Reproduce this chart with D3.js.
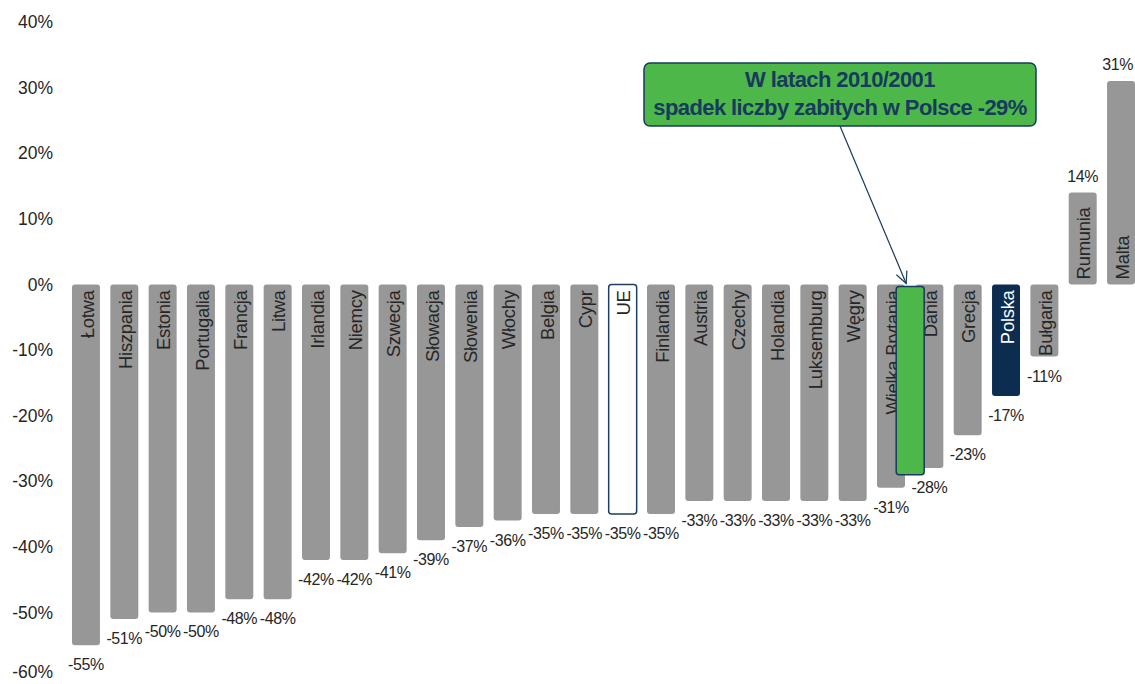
<!doctype html>
<html>
<head>
<meta charset="utf-8" />
<title>Zmiana liczby zabitych</title>
<script src="https://cdn.jsdelivr.net/npm/d3@7"></script>
<style>
    body { margin: 0; background: #fff; }
    svg { font-family: "Liberation Sans", Arial, sans-serif; }
</style>
</head>
<body>
<div id="chart"></div>
<script>
    // dane
    var countries = ['Łotwa', 'Hiszpania', 'Estonia', 'Portugalia', 'Francja', 'Litwa', 'Irlandia', 'Niemcy',
        'Szwecja', 'Słowacja', 'Słowenia', 'Włochy', 'Belgia', 'Cypr', 'UE', 'Finlandia', 'Austria', 'Czechy',
        'Holandia', 'Luksemburg', 'Węgry', 'Wielka Brytania', 'Dania', 'Grecja', 'Polska', 'Bułgaria', 'Rumunia', 'Malta'];
    var values = [-55, -51, -50, -50, -48, -48, -42, -42, -41, -39, -37, -36, -35, -35, -35, -35, -33, -33,
        -33, -33, -33, -31, -28, -23, -17, -11, 14, 31];
    var yTicks = [-60, -50, -40, -30, -20, -10, 0, 10, 20, 30, 40];
    var calloutLines = ['W latach 2010/2001', 'spadek liczby zabitych w Polsce -29%'];
    var polandChange = -29;

    var W = 1135, H = 684;
    var svg = d3.select('#chart').append('svg')
        .attr('width', W)
        .attr('height', H);

    var y = d3.scaleLinear().domain([-60, 40]).range([678, 22]);
    var x = d3.scaleBand().domain(countries).range([66.8, 1140.2])
        .paddingInner(0.27).paddingOuter(0.135);

    // oś Y
    var yAxis = svg.append('g')
        .attr('transform', 'translate(53,0)')
        .call(d3.axisLeft(y).tickValues(yTicks).tickSize(0).tickPadding(0)
            .tickFormat(function (d) { return d + '%'; }));
    yAxis.select('.domain').remove();
    yAxis.selectAll('text')
        .style('font-size', '17.5px')
        .style('font-family', '"Liberation Sans", Arial, sans-serif')
        .attr('fill', '#262626');
    // ostatnia etykieta przy dolnej krawędzi – do góry, żeby się zmieściła
    yAxis.selectAll('.tick').filter(function (d) { return d === -60; })
        .select('text').attr('y', -6);

    function fillFor(name) {
        if (name === 'Polska') return '#0c2d50';
        if (name === 'UE') return '#ffffff';
        return '#979797';
    }

    var bars = svg.append('g');
    bars.selectAll('rect')
        .data(countries)
        .enter().append('rect')
        .attr('x', function (d) { return x(d); })
        .attr('y', function (d, i) { return y(Math.max(0, values[i])); })
        .attr('width', x.bandwidth())
        .attr('height', function (d, i) { return Math.abs(y(values[i]) - y(0)); })
        .attr('rx', 3)
        .attr('fill', fillFor)
        .attr('stroke', function (d) { return d === 'UE' ? '#1d3f63' : 'none'; })
        .attr('stroke-width', 1.5);

    // nazwy krajów w słupkach
    bars.selectAll('text.name')
        .data(countries)
        .enter().append('text')
        .attr('class', 'name')
        .attr('transform', function (d, i) {
            var cx = x(d) + x.bandwidth() / 2 + 1;
            var yy = values[i] < 0 ? y(0) + 6 : y(0) - 5;
            return 'translate(' + cx + ',' + yy + ') rotate(-90)';
        })
        .attr('dy', '0.36em')
        .attr('text-anchor', function (d, i) { return values[i] < 0 ? 'end' : 'start'; })
        .style('font-size', '18.5px')
        .style('letter-spacing', '-0.3px')
        .attr('fill', function (d) { return d === 'Polska' ? '#ffffff' : '#262626'; })
        .text(function (d) { return d; });

    // wartości
    bars.selectAll('text.val')
        .data(countries)
        .enter().append('text')
        .attr('class', 'val')
        .attr('x', function (d) { return x(d) + x.bandwidth() / 2; })
        .attr('y', function (d, i) { return values[i] < 0 ? y(values[i]) + 25 : y(values[i]) - 11; })
        .attr('text-anchor', 'middle')
        .style('font-size', '16px')
        .style('letter-spacing', '-0.4px')
        .attr('fill', '#262626')
        .text(function (d, i) { return values[i] + '%'; })
        .each(function () {
            // nie wychodzić poza prawą krawędź
            var w = this.getComputedTextLength();
            var cx = +d3.select(this).attr('x');
            if (cx + w / 2 > W - 2) d3.select(this).attr('x', W - 2 - w / 2);
        });

    // zielony słupek – Polska 2010/2001
    var gx = (x('Wielka Brytania') + x('Dania')) / 2;
    svg.append('rect')
        .attr('x', gx)
        .attr('y', y(0) + 2)
        .attr('width', x.bandwidth())
        .attr('height', y(polandChange) - y(0) - 2)
        .attr('rx', 3)
        .attr('fill', '#4db849')
        .attr('stroke', '#173a5e')
        .attr('stroke-width', 1.5);

    // strzałka
    var tipX = gx + x.bandwidth() / 2 - 4, tipY = y(0) - 1;
    var fromX = 840, fromY = 126;
    svg.append('line')
        .attr('x1', fromX).attr('y1', fromY)
        .attr('x2', tipX).attr('y2', tipY)
        .attr('stroke', '#173a5e').attr('stroke-width', 1.2);
    var ang = Math.atan2(tipY - fromY, tipX - fromX);
    var hl = 13, ha = 0.45;
    svg.append('polyline')
        .attr('points', [
            [tipX - hl * Math.cos(ang - ha), tipY - hl * Math.sin(ang - ha)],
            [tipX, tipY],
            [tipX - hl * Math.cos(ang + ha), tipY - hl * Math.sin(ang + ha)]
        ].map(function (p) { return p.join(' '); }).join(', '))
        .attr('fill', 'none')
        .attr('stroke', '#173a5e').attr('stroke-width', 1.2);

    // ramka z opisem
    svg.append('rect')
        .attr('x', 644).attr('y', 63)
        .attr('width', 392).attr('height', 63)
        .attr('rx', 6)
        .attr('fill', '#4db849')
        .attr('stroke', '#173a5e')
        .attr('stroke-width', 1.5);
    svg.selectAll('text.callout')
        .data(calloutLines)
        .enter().append('text')
        .attr('class', 'callout')
        .attr('x', 840)
        .attr('y', function (d, i) { return 87 + i * 28; })
        .attr('text-anchor', 'middle')
        .style('font-size', '22px')
        .style('font-weight', 'bold')
        .style('letter-spacing', '-0.6px')
        .attr('fill', '#173a5e')
        .text(function (d) { return d; });
</script>
</body>
</html>
